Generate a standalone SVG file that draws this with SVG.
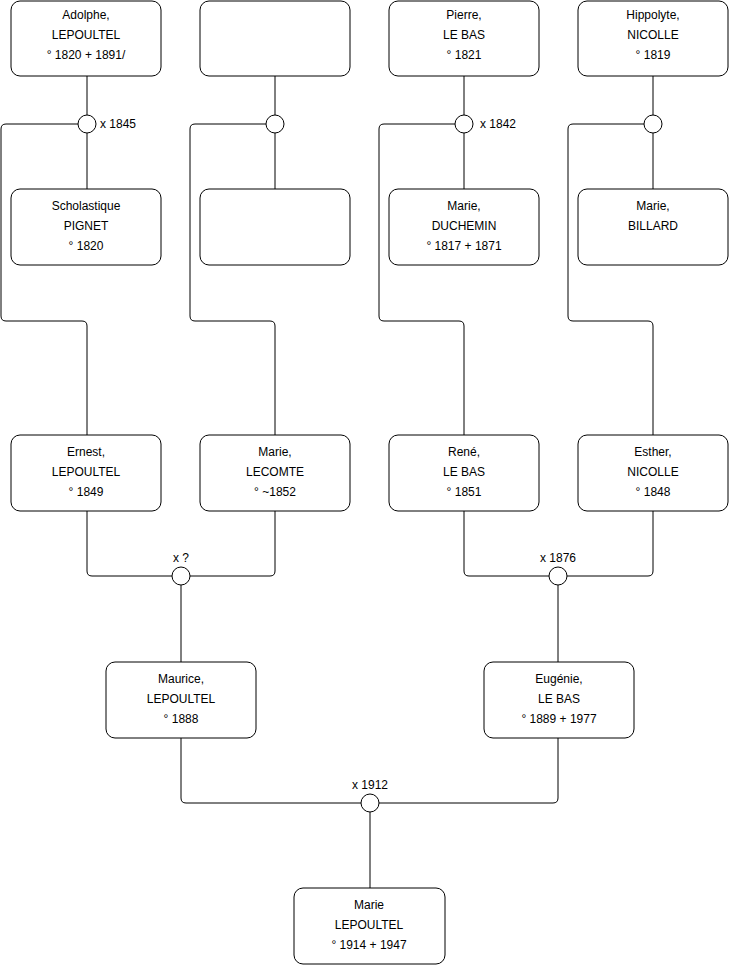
<svg xmlns="http://www.w3.org/2000/svg" width="740" height="975" viewBox="0 0 740 975">
<style>
.box{fill:#fff;stroke:#000;stroke-width:1}
.c{fill:#fff;stroke:#000;stroke-width:1}
.l{fill:none;stroke:#000;stroke-width:1}
text{font-family:"Liberation Sans",Arial,sans-serif;font-size:12px;fill:#000}
.m{text-anchor:middle}
</style>
<rect width="740" height="975" fill="#fff"/>
<g id="connectors">
<path class="l" d="M87,76V115M87,133V189"/>
<path class="l" d="M78,124H6Q1,124 1,129V316Q1,321 6,321H82Q87,321 87,326V435"/>
<path class="l" d="M275,76V115M275,133V189"/>
<path class="l" d="M266,124H195Q190,124 190,129V316Q190,321 195,321H270Q275,321 275,326V435"/>
<path class="l" d="M464,76V115M464,133V189"/>
<path class="l" d="M455,124H384Q379,124 379,129V316Q379,321 384,321H459Q464,321 464,326V435"/>
<path class="l" d="M653,76V115M653,133V189"/>
<path class="l" d="M644,124H573Q568,124 568,129V316Q568,321 573,321H648Q653,321 653,326V435"/>
<path class="l" d="M87,511V571Q87,576 92,576H172M275,511V571Q275,576 270,576H190M181,585V662"/>
<path class="l" d="M464,511V571Q464,576 469,576H549M653,511V571Q653,576 648,576H567M558,585V662"/>
<path class="l" d="M181,738V798Q181,803 186,803H361M558,738V798Q558,803 553,803H379M370,812V888"/>
</g>
<g id="u1845"><circle class="c" cx="87" cy="124" r="9"/><text x="100" y="128">x 1845</text></g>
<g id="u2"><circle class="c" cx="275" cy="124" r="9"/></g>
<g id="u1842"><circle class="c" cx="464" cy="124" r="9"/><text x="480" y="128">x 1842</text></g>
<g id="u4"><circle class="c" cx="653" cy="124" r="9"/></g>
<g id="u_q"><circle class="c" cx="181" cy="576" r="9"/><text class="m" x="181" y="562">x ?</text></g>
<g id="u1876"><circle class="c" cx="558" cy="576" r="9"/><text class="m" x="558" y="562">x 1876</text></g>
<g id="u1912"><circle class="c" cx="370" cy="803" r="9"/><text class="m" x="370" y="789">x 1912</text></g>

<g id="adolphe"><rect class="box" x="11" y="1" width="150" height="75" rx="9"/>
<text class="m" x="86" y="19">Adolphe,</text><text class="m" x="86" y="39">LEPOULTEL</text><text class="m" x="86" y="59">° 1820 + 1891/</text></g>
<g id="unknown1"><rect class="box" x="200" y="1" width="150" height="75" rx="9"/></g>
<g id="pierre"><rect class="box" x="389" y="1" width="150" height="75" rx="9"/>
<text class="m" x="464" y="19">Pierre,</text><text class="m" x="464" y="39">LE BAS</text><text class="m" x="464" y="59">° 1821</text></g>
<g id="hippolyte"><rect class="box" x="578" y="1" width="150" height="75" rx="9"/>
<text class="m" x="653" y="19">Hippolyte,</text><text class="m" x="653" y="39">NICOLLE</text><text class="m" x="653" y="59">° 1819</text></g>

<g id="scholastique"><rect class="box" x="11" y="189" width="150" height="76" rx="9"/>
<text class="m" x="86" y="210">Scholastique</text><text class="m" x="86" y="230">PIGNET</text><text class="m" x="86" y="250">° 1820</text></g>
<g id="unknown2"><rect class="box" x="200" y="189" width="150" height="76" rx="9"/></g>
<g id="marieduchemin"><rect class="box" x="389" y="189" width="150" height="76" rx="9"/>
<text class="m" x="464" y="210">Marie,</text><text class="m" x="464" y="230">DUCHEMIN</text><text class="m" x="464" y="250">° 1817 + 1871</text></g>
<g id="mariebillard"><rect class="box" x="578" y="189" width="150" height="76" rx="9"/>
<text class="m" x="653" y="210">Marie,</text><text class="m" x="653" y="230">BILLARD</text></g>

<g id="ernest"><rect class="box" x="11" y="435" width="150" height="76" rx="9"/>
<text class="m" x="86" y="456">Ernest,</text><text class="m" x="86" y="476">LEPOULTEL</text><text class="m" x="86" y="496">° 1849</text></g>
<g id="marielecomte"><rect class="box" x="200" y="435" width="150" height="76" rx="9"/>
<text class="m" x="275" y="456">Marie,</text><text class="m" x="275" y="476">LECOMTE</text><text class="m" x="275" y="496">° ~1852</text></g>
<g id="rene"><rect class="box" x="389" y="435" width="150" height="76" rx="9"/>
<text class="m" x="464" y="456">René,</text><text class="m" x="464" y="476">LE BAS</text><text class="m" x="464" y="496">° 1851</text></g>
<g id="esther"><rect class="box" x="578" y="435" width="150" height="76" rx="9"/>
<text class="m" x="653" y="456">Esther,</text><text class="m" x="653" y="476">NICOLLE</text><text class="m" x="653" y="496">° 1848</text></g>

<g id="maurice"><rect class="box" x="106" y="662" width="150" height="76" rx="9"/>
<text class="m" x="181" y="683">Maurice,</text><text class="m" x="181" y="703">LEPOULTEL</text><text class="m" x="181" y="723">° 1888</text></g>
<g id="eugenie"><rect class="box" x="484" y="662" width="150" height="76" rx="9"/>
<text class="m" x="559" y="683">Eugénie,</text><text class="m" x="559" y="703">LE BAS</text><text class="m" x="559" y="723">° 1889 + 1977</text></g>

<g id="marie"><rect class="box" x="294" y="888" width="151" height="76" rx="9"/>
<text class="m" x="369" y="909">Marie</text><text class="m" x="369" y="929">LEPOULTEL</text><text class="m" x="369" y="949">° 1914 + 1947</text></g>
</svg>
